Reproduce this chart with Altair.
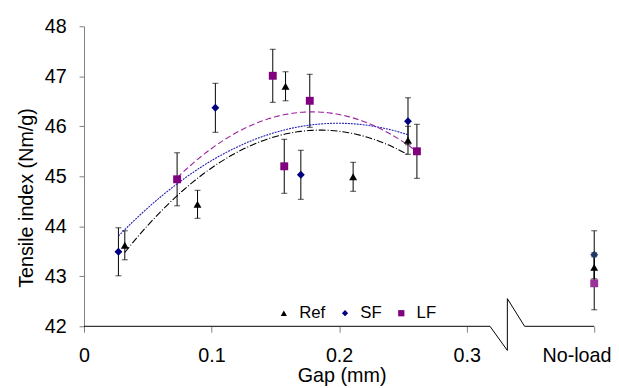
import altair as alt
import pandas as pd

# ---- data ----
series_names = ["Ref", "SF", "LF"]

gap_ref = [0.032, 0.089, 0.158, 0.211, 0.254]
ten_ref = [43.62, 44.44, 46.80, 44.99, 45.72]
err_ref = [0.29, 0.28, 0.29, 0.29, 0.28]

gap_sf = [0.027, 0.103, 0.170, 0.254]
ten_sf = [43.49, 46.37, 45.03, 46.10]
err_sf = [0.48, 0.49, 0.49, 0.47]

gap_lf = [0.073, 0.148, 0.157, 0.177, 0.261]
ten_lf = [44.94, 47.01, 45.20, 46.51, 45.50]
err_lf = [0.53, 0.53, 0.54, 0.53, 0.54]

noload_pos = 0.4
noload_ten = [43.18, 43.43, 42.86]   # Ref, SF, LF
noload_err = [0.29, 0.48, 0.53]

x_ticks = [0, 0.1, 0.2, 0.3, 0.4]
y_ticks = [42, 43, 44, 45, 46, 47, 48]

# axis line with the break symbol (in data units)
break_x = [0, 0.3183, 0.3319, 0.3319, 0.3454, 0.4]
break_y = [42, 42, 41.517, 42.553, 42, 42]

rows = []
for name, gs, vs, es in [("Ref", gap_ref, ten_ref, err_ref),
                         ("SF", gap_sf, ten_sf, err_sf),
                         ("LF", gap_lf, ten_lf, err_lf)]:
    for g, v, e in zip(gs, vs, es):
        rows.append({"key": name, "gap": g, "ten": v, "lo": v - e, "hi": v + e})
for name, v, e in zip(series_names, noload_ten, noload_err):
    rows.append({"key": name + " NL", "gap": noload_pos, "ten": v, "lo": v - e, "hi": v + e})
df = pd.DataFrame(rows)

brk = pd.DataFrame({"gap": break_x, "ten": break_y, "o": list(range(len(break_x)))})

keys = ["Ref", "SF", "LF", "Ref NL", "SF NL", "LF NL"]
colors = ["#000000", "#000080", "#800080", "#000000", "#1f3864", "#993399"]
shapes = ["triangle-up", "diamond", "square", "triangle-up", "diamond", "square"]

FONT = "Liberation Sans"

xscale = alt.Scale(domain=[0, 0.4], nice=False, zero=False)
yscale = alt.Scale(domain=[42, 48], nice=False, zero=False)

xaxis = alt.Axis(
    values=x_ticks, grid=False, domain=False,
    tickColor="#808080", tickSize=6,
    labelFont=FONT, labelFontSize=20, labelColor="black", labelPadding=14,
    labelFlush=False, labelOverlap=False,
    labelExpr="datum.value > 0.35 ? 'No-load' : (datum.value == 0 ? '0' : format(datum.value, '.1f'))",
    labelOffset={"condition": {"test": "datum.value > 0.35", "value": -18}, "value": 0},
    title="Gap (mm)", titleFont=FONT, titleFontSize=20, titleFontWeight="normal",
    titleColor="black", titleX=261, titleY=56, titleAlign="center",
    titleBaseline="alphabetic",
)
yaxis = alt.Axis(
    values=y_ticks, grid=False, domainColor="#808080", tickColor="#808080",
    tickSize=5, labelFont=FONT, labelFontSize=20, labelColor="black",
    labelPadding=13, labelFlush=False,
    title="Tensile index (Nm/g)", titleFont=FONT, titleFontSize=20,
    titleFontWeight="normal", titleColor="black", titleX=-58, titleY=173.5,
    titleAngle=270, titleAlign="center", titleBaseline="middle",
)

X = alt.X("gap:Q", scale=xscale, axis=xaxis)
Y = alt.Y("ten:Q", scale=yscale, axis=yaxis)

leg = alt.Legend(
    values=series_names, orient="none", legendX=194, legendY=282,
    direction="horizontal", title=None, labelFont=FONT, labelFontSize=17,
    labelColor="black", symbolSize=40, labelOffset=7, columnPadding=11,
    padding=0, symbolStrokeWidth=0,
)

base = alt.Chart(df)

axis_line = alt.Chart(brk).mark_line(color="black", strokeWidth=1).encode(
    x=X, y=Y, order="o:Q",
)

bars = base.mark_rule(color="black", strokeWidth=1).encode(
    x=X, y=alt.Y("lo:Q", scale=yscale, axis=yaxis), y2="hi:Q"
)
caps_lo = base.mark_tick(color="black", orient="horizontal", size=6, thickness=1).encode(
    x=X, y=alt.Y("lo:Q", scale=yscale, axis=yaxis)
)
caps_hi = base.mark_tick(color="black", orient="horizontal", size=6, thickness=1).encode(
    x=X, y=alt.Y("hi:Q", scale=yscale, axis=yaxis)
)

trend = base.transform_filter("datum.gap < 0.35").transform_regression(
    "gap", "ten", method="poly", order=2, groupby=["key"]
).mark_line(strokeWidth=1.1).encode(
    x=X, y=Y,
    stroke=alt.Stroke("key:N", scale=alt.Scale(domain=series_names,
                      range=["#000000", "#2020b0", "#a020a0"]), legend=None),
    strokeDash=alt.StrokeDash("key:N", scale=alt.Scale(domain=series_names,
                      range=[[7, 2, 1, 2], [2, 1], [6, 3]]), legend=None),
)

points = base.mark_point(filled=True, opacity=1, size=64, strokeWidth=0).encode(
    x=X, y=Y,
    color=alt.Color("key:N", scale=alt.Scale(domain=keys, range=colors), legend=leg),
    shape=alt.Shape("key:N", scale=alt.Scale(domain=keys, range=shapes), legend=leg),
)

chart = alt.layer(axis_line, bars, caps_lo, caps_hi, trend, points).properties(
    width=517, height=304,
    autosize=alt.AutoSizeParams(type="none"),
    padding={"left": 77, "top": 16, "right": 17, "bottom": 60},
    background="white",
).configure(font=FONT).configure_view(stroke=None)

chart.save("out.html", embed_options={"renderer": "svg", "actions": False})
